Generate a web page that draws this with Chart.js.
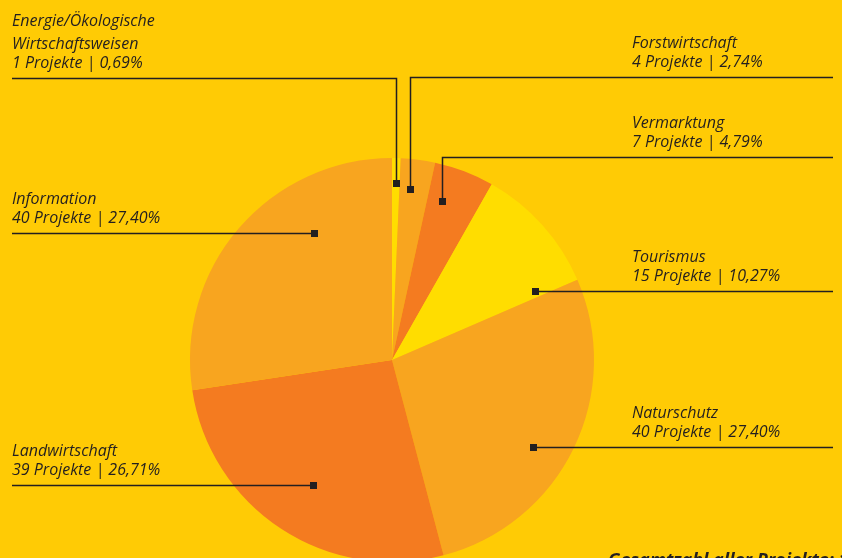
<!DOCTYPE html>
<html lang="de">
<head>
<meta charset="utf-8">
<title>Projekte nach Themen</title>
<script src="https://cdn.jsdelivr.net/npm/chart.js@4.4.1/dist/chart.umd.min.js"></script>
<style>
  html, body { margin: 0; padding: 0; background: #FFCB05; overflow: hidden; }
  #wrap { width: 842px; height: 600px; }
</style>
</head>
<body>
<div id="wrap"><canvas id="grafico" width="842" height="600"></canvas></div>
<script>
// Daten
const categories = [
  ['Energie/Ökologische', 'Wirtschaftsweisen'],
  ['Forstwirtschaft'],
  ['Vermarktung'],
  ['Tourismus'],
  ['Naturschutz'],
  ['Landwirtschaft'],
  ['Information']
];
const projects = [1, 4, 7, 15, 40, 39, 40];
const shares = ['0,69', '2,74', '4,79', '10,27', '27,40', '26,71', '27,40'];

const totalLabel = 'Gesamtzahl aller Projekte: ';

// Farben
const YELLOW = '#FFDD00';
const LIGHT = '#F8A51F';
const DARK = '#F47B20';
const sliceColors = [YELLOW, LIGHT, DARK, YELLOW, LIGHT, DARK, LIGHT];

// Lage der Beschriftungen: Seite, Textspalte, Knickhöhe, Punkt im Segment [Winkelanteil, Radiusanteil]
const labelLayout = [
  { side: 'left',  x: 12,  lineY: 78,  at: [0.5, 0.876] },
  { side: 'right', x: 632, lineY: 77,  at: [0.36, 0.85] },
  { side: 'right', x: 632, lineY: 157, at: [0.30, 0.825] },
  { side: 'right', x: 632, lineY: null, at: [0.936, 0.786] },
  { side: 'right', x: 632, lineY: null, at: [0.557, 0.82] },
  { side: 'left',  x: 12,  lineY: null, at: [0.49, 0.73] },
  { side: 'left',  x: 12,  lineY: null, at: [0.68, 0.74] }
];

const INK = '#231F20';
const FONT = 'italic 16px "Open Sans", sans-serif';

const leaderPlugin = {
  id: 'leader',
  afterDraw(chart){
    const ctx = chart.ctx;
    const arcs = chart.getDatasetMeta(0).data;
    ctx.save();
    ctx.strokeStyle = INK;
    ctx.fillStyle = INK;
    ctx.lineWidth = 1.5;
    ctx.font = FONT;
    ctx.textBaseline = 'alphabetic';

    arcs.forEach((arc, i) => {
      const lay = labelLayout[i];
      const p = arc.getProps(['x', 'y', 'startAngle', 'endAngle', 'outerRadius'], true);
      const a = p.startAngle + lay.at[0] * (p.endAngle - p.startAngle);
      const r = p.outerRadius * lay.at[1];
      const mx = Math.round(p.x + r * Math.cos(a)) + 0.5;
      const my = Math.round(p.y + r * Math.sin(a)) + 0.5;
      const lineY = lay.lineY !== null ? lay.lineY + 0.5 : my;
      const endX = lay.side === 'right' ? 833 : 12;

      ctx.beginPath();
      ctx.moveTo(mx, my);
      if (lay.lineY !== null) ctx.lineTo(mx, lineY);
      ctx.lineTo(endX, lineY);
      ctx.stroke();
      ctx.fillRect(mx - 3.5, my - 3.5, 7, 7);

      // Text über der Linie
      const lines = categories[i].concat([projects[i] + ' Projekte | ' + shares[i] + '%']);
      let y = lineY - 11;
      for (let k = lines.length - 1; k >= 0; k--){
        ctx.fillText(lines[k], lay.x, y);
        y -= (k === 1 && lines.length > 2) ? 23 : 19;
      }
    });

    // Gesamtzahl unten rechts
    const total = projects.reduce((s, v) => s + v, 0);
    ctx.font = 'italic bold 18px "Open Sans", sans-serif';
    ctx.fillText(totalLabel + total, 608, 566);
    ctx.restore();
  }
};

const ctx = document.getElementById('grafico').getContext('2d');
new Chart(ctx, {
  type: 'pie',
  data: {
    labels: categories.map(c => c.join(' ')),
    datasets: [{
      data: projects,
      backgroundColor: sliceColors,
      borderWidth: 0,
      hoverOffset: 0
    }]
  },
  options: {
    responsive: false,
    animation: false,
    layout: { padding: { left: 190, right: 248, top: 158, bottom: 38 } },
    plugins: {
      legend: { display: false },
      tooltip: { enabled: false }
    }
  },
  plugins: [leaderPlugin]
});
</script>
</body>
</html>
